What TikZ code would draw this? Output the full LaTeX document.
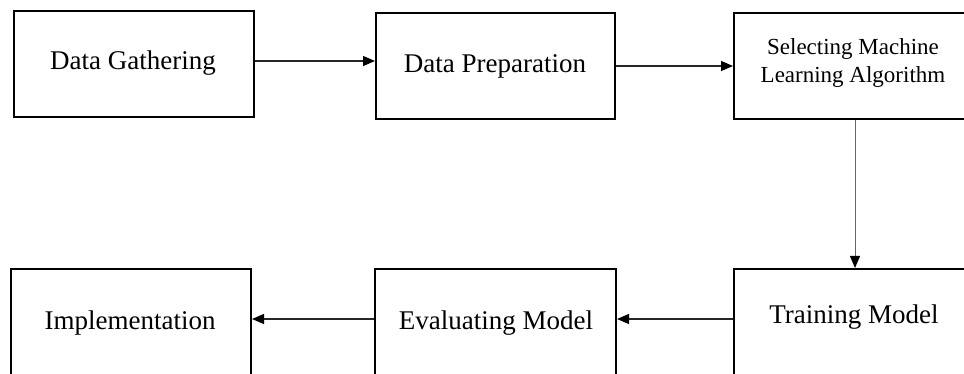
\documentclass[tikz,border=0pt]{standalone}
\usepackage{fontspec}
\setmainfont{Liberation Serif}
\usetikzlibrary{arrows.meta}
\begin{document}
\begin{tikzpicture}[x=1pt,y=-1pt,
  stagebox/.style={draw=black,line width=2pt,inner sep=0pt,anchor=north west},
  caption/.style={inner sep=0pt,font=\fontsize{27}{28}\selectfont,align=center},
  flow/.style={draw=black!85,line width=1.2pt,-{Triangle[length=12pt,width=10pt,color=black]}}]
\clip (0,0) rectangle (964,374);
\fill[white] (0,0) rectangle (964,374);
% top row of stages
\node[stagebox,minimum width=240pt,minimum height=106pt] (gatherbox) at (13,10) {};
\node[stagebox,minimum width=239pt,minimum height=106pt] (prepbox) at (375,12) {};
\node[stagebox,minimum width=242pt,minimum height=106pt] (selectbox) at (733,12) {};
% bottom row of stages, running past the lower and right edges
\node[stagebox,minimum width=240pt,minimum height=120pt] (implbox) at (10,268) {};
\node[stagebox,minimum width=241pt,minimum height=120pt] (evalbox) at (374,268) {};
\node[stagebox,minimum width=242pt,minimum height=120pt] (trainbox) at (733,268) {};
% stage names
\node[caption] (gather) at (133,63) {Data Gathering};
\node[caption] (prep) at (495,66) {Data Preparation};
\node[caption,font=\fontsize{23}{28}\selectfont] (select) at (853,63)
  {Selecting Machine\\Learning Algorithm};
\node[caption] (impl) at (130,323) {Implementation};
\node[caption] (eval) at (496,323) {Evaluating Model};
\node[caption] (train) at (854,317) {Training Model};
% arrow levels
\coordinate (rowa) at (0,61);
\coordinate (rowb) at (0,66);
\coordinate (rowc) at (0,319);
% connectors
\draw[flow] (gatherbox.east |- rowa) -- (prepbox.west |- rowa);
\draw[flow] (prepbox.east |- rowb) -- (selectbox.west |- rowb);
\draw[flow,draw=black!60,line width=1pt] (selectbox.south) -- (trainbox.north);
\draw[flow] (trainbox.west |- rowc) -- (evalbox.east |- rowc);
\draw[flow] (evalbox.west |- rowc) -- (implbox.east |- rowc);
\end{tikzpicture}
\end{document}
